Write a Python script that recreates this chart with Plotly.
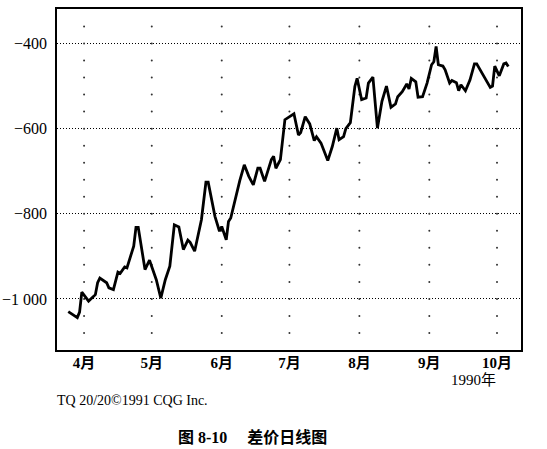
import numpy as np
import plotly.graph_objects as go

# ---- data (daily spread, 1990) ----
dates = [
    "1990-03-25", "1990-03-29", "1990-03-30", "1990-03-31",
    "1990-04-03", "1990-04-06", "1990-04-07", "1990-04-08", "1990-04-11", "1990-04-12",
    "1990-04-14", "1990-04-16", "1990-04-17", "1990-04-19", "1990-04-20", "1990-04-23",
    "1990-04-24", "1990-04-25", "1990-04-28", "1990-04-30",
    "1990-05-03", "1990-05-05", "1990-05-07", "1990-05-09", "1990-05-11", "1990-05-13",
    "1990-05-15", "1990-05-17", "1990-05-18", "1990-05-20", "1990-05-23", "1990-05-25",
    "1990-05-26", "1990-05-29", "1990-05-31",
    "1990-06-01", "1990-06-03", "1990-06-04", "1990-06-05", "1990-06-07", "1990-06-08",
    "1990-06-09", "1990-06-11", "1990-06-13", "1990-06-15", "1990-06-17", "1990-06-18",
    "1990-06-20", "1990-06-23", "1990-06-24", "1990-06-25", "1990-06-27", "1990-06-29",
    "1990-06-30",
    "1990-07-03", "1990-07-05", "1990-07-06", "1990-07-08", "1990-07-10", "1990-07-12",
    "1990-07-13", "1990-07-15", "1990-07-18", "1990-07-20", "1990-07-22", "1990-07-23",
    "1990-07-25", "1990-07-26", "1990-07-28", "1990-07-30", "1990-07-31",
    "1990-08-02", "1990-08-04", "1990-08-05", "1990-08-07", "1990-08-09", "1990-08-11",
    "1990-08-13", "1990-08-15", "1990-08-17", "1990-08-18", "1990-08-20", "1990-08-22",
    "1990-08-23", "1990-08-24", "1990-08-26", "1990-08-27", "1990-08-29", "1990-08-31",
    "1990-09-02", "1990-09-03", "1990-09-04", "1990-09-05", "1990-09-07", "1990-09-08",
    "1990-09-10", "1990-09-11", "1990-09-13", "1990-09-14", "1990-09-15", "1990-09-17",
    "1990-09-19", "1990-09-21", "1990-09-22", "1990-09-24", "1990-09-25", "1990-09-28",
    "1990-09-29", "1990-09-30",
    "1990-10-02", "1990-10-04", "1990-10-05", "1990-10-06",
]
spread = [
    -1030, -1044, -1031, -984,
    -1005, -990, -962, -951, -962, -974,
    -978, -937, -940, -925, -927, -876,
    -832, -832, -931, -909,
    -955, -998, -955, -923, -826, -831,
    -884, -862, -867, -888, -814, -726,
    -726, -806, -841,
    -830, -861, -818, -810, -763, -747,
    -722, -685, -712, -732, -693, -693,
    -724, -673, -665, -693, -673, -579,
    -575,
    -565, -615, -609, -572, -589, -628,
    -619, -634, -675, -642, -599, -626,
    -619, -600, -586, -501, -482,
    -532, -528, -493, -479, -599, -536,
    -500, -550, -542, -525, -513, -495,
    -507, -482, -490, -526, -525, -493,
    -450, -443, -407, -450, -453, -462,
    -493, -487, -492, -511, -497, -511,
    -486, -448, -448, -466, -474, -503,
    -500, -453,
    -476, -448, -446, -454,
]

month_ticks = ["1990-04-01", "1990-05-01", "1990-06-01", "1990-07-01",
               "1990-08-01", "1990-09-01", "1990-10-01"]
month_labels = ["4月", "5月", "6月", "7月", "8月", "9月", "10月"]
y_ticks = [-1000, -800, -600, -400]
y_labels = ["−1 000", "−800", "−600", "−400"]

# dotted grid points (month columns x every 40 units)
dot_y = np.arange(-1080, -359, 40)
gx, gy = [], []
for m in month_ticks:
    for v in dot_y:
        gx.append(m)
        gy.append(int(v))

serif = "Liberation Serif, Noto Sans CJK SC"

fig = go.Figure()
fig.add_trace(go.Scatter(x=gx, y=gy, mode="markers",
                         marker=dict(size=2, color="#333"),
                         hoverinfo="skip", showlegend=False))
fig.add_trace(go.Scatter(x=dates, y=spread, mode="lines",
                         line=dict(color="black", width=2.8),
                         showlegend=False))

fig.update_layout(
    width=547, height=449,
    margin=dict(l=57, r=26, t=9, b=99),
    plot_bgcolor="white", paper_bgcolor="white",
    font=dict(family=serif, color="black", size=14),
    xaxis=dict(
        type="date",
        range=["1990-03-20", "1990-10-11 15:00"],
        tickvals=month_ticks,
        ticktext=["<b>%s</b>" % t for t in month_labels],
        tickfont=dict(family=serif, size=15, color="black"),
        showgrid=False, zeroline=False, automargin=False,
        showline=True, linecolor="black", linewidth=1.6, mirror=True,
        ticks="", ticklabelstandoff=-2,
    ),
    yaxis=dict(
        range=[-1120, -319],
        tickvals=y_ticks, ticktext=y_labels,
        tickfont=dict(family=serif, size=16, color="black"),
        showgrid=True, gridcolor="black", gridwidth=1, griddash="1px,2px",
        zeroline=False, automargin=False,
        showline=True, linecolor="black", linewidth=1.6, mirror=True,
        ticks="", ticklabelstandoff=5,
    ),
    annotations=[
        dict(text="1990年", xref="paper", yref="paper", x=0.950, y=-0.088,
             xanchor="right", yanchor="middle", showarrow=False,
             font=dict(family=serif, size=15, color="black")),
        dict(text="TQ 20/20©1991 CQG Inc.", xref="paper", yref="paper",
             x=-0.004, y=-0.147, xanchor="left", yanchor="middle", showarrow=False,
             font=dict(family="Liberation Serif", size=14, color="black")),
        dict(text="<b>图 8-10     差价日线图</b>", xref="paper", yref="paper",
             x=0.421, y=-0.255, xanchor="center", yanchor="middle", showarrow=False,
             font=dict(family="Liberation Serif, Noto Sans CJK SC", size=16, color="black")),
    ],
)

fig.write_html("out.html", config={"displayModeBar": False},
               post_script="document.body.style.margin='0';document.body.style.padding='0';")
